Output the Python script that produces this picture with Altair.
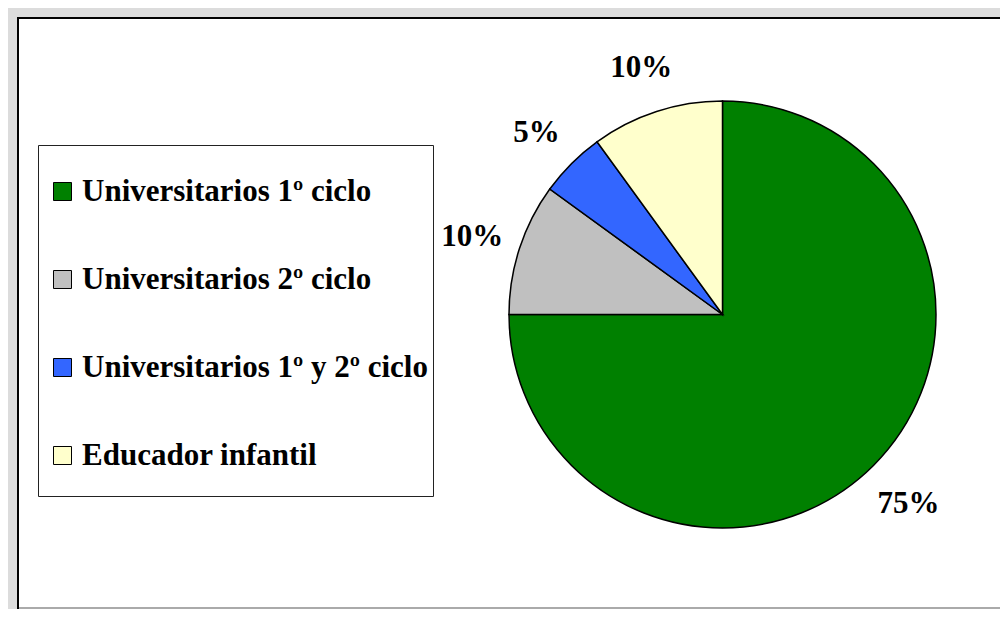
import altair as alt
import pandas as pd

categories = ["Universitarios 1º ciclo", "Universitarios 2º ciclo",
              "Universitarios 1º y 2º ciclo", "Educador infantil"]
values = [75, 10, 5, 10]
labels = ["75%", "10%", "5%", "10%"]
colors = ["#008000", "#c0c0c0", "#3366ff", "#ffffcc"]

df = pd.DataFrame({"cat": categories, "value": values, "label": labels,
                   "idx": list(range(len(categories)))})
one = pd.DataFrame({"a": [0]})

W, H = 992, 601
CX, CY, R = 714.5, 306.5, 213.5
FONT = "Liberation Serif"

# frame decorations
gray_top = alt.Chart(one).mark_rect(color="#dcdcdc").encode(
    x=alt.value(0), x2=alt.value(W), y=alt.value(0), y2=alt.value(9))
gray_left = alt.Chart(one).mark_rect(color="#dcdcdc").encode(
    x=alt.value(0), x2=alt.value(9), y=alt.value(0), y2=alt.value(H))
black_top = alt.Chart(one).mark_rule(color="black", strokeWidth=2).encode(
    x=alt.value(9), x2=alt.value(W), y=alt.value(10))
black_left = alt.Chart(one).mark_rule(color="black", strokeWidth=2).encode(
    x=alt.value(10), y=alt.value(9), y2=alt.value(H))
bottom_line = alt.Chart(one).mark_rule(color="#aaaaaa", strokeWidth=2).encode(
    x=alt.value(11), x2=alt.value(W), y=alt.value(H - 1))
legend_box = alt.Chart(one).mark_rect(fill="white", stroke="#222222", strokeWidth=1).encode(
    x=alt.value(30.5), x2=alt.value(425.5), y=alt.value(137.5), y2=alt.value(488.5))

pie = alt.Chart(df).mark_arc(outerRadius=R, stroke="black", strokeWidth=1.5).encode(
    theta=alt.Theta("value:Q", stack=True),
    color=alt.Color("cat:N", scale=alt.Scale(domain=categories, range=colors),
                    legend=alt.Legend(title=None, orient="none", legendX=39, legendY=168,
                                      symbolType="square", symbolSize=324,
                                      symbolStrokeColor="black", symbolStrokeWidth=1,
                                      symbolOpacity=1,
                                      labelFont=FONT, labelFontSize=31,
                                      labelFontWeight="bold", labelColor="black",
                                      labelLimit=0, labelOffset=4, rowPadding=56,
                                      padding=0)),
    order=alt.Order("idx:Q"),
    x=alt.value(CX), y=alt.value(CY),
)

text = alt.Chart(df).mark_text(radius=263, font=FONT, fontSize=31, fontWeight="bold",
                               color="black", dy=4).encode(
    theta=alt.Theta("value:Q", stack=True),
    order=alt.Order("idx:Q"),
    text="label:N",
    x=alt.value(CX), y=alt.value(CY),
)

chart = alt.layer(gray_top, gray_left, black_top, black_left, bottom_line,
                  legend_box, pie, text).properties(
    width=W, height=H, padding=0, background="white",
    autosize=alt.AutoSizeParams(type="none"),
).configure_view(stroke=None)

chart.save("out.html", embed_options={"renderer": "svg", "actions": False})
